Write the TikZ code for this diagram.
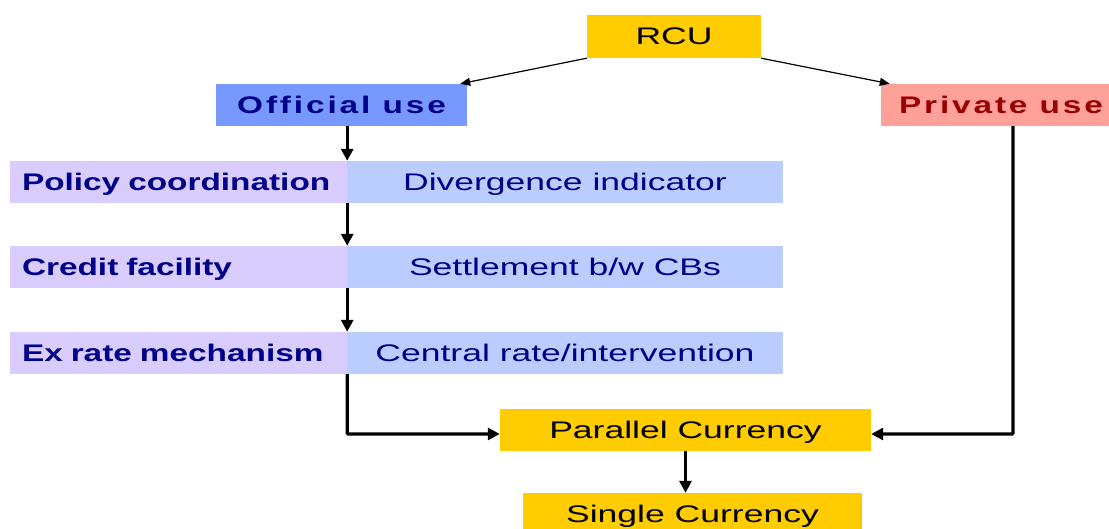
\documentclass[tikz,border=0pt]{standalone}
\usepackage{fontspec}
\setmainfont{Liberation Sans}
\newfontfamily\regf[FakeStretch=1.48]{Liberation Sans}
\newfontfamily\boldf[FakeStretch=1.39]{Liberation Sans}
\newfontfamily\spacedf[FakeStretch=1.39,LetterSpace=12]{Liberation Sans}
\usetikzlibrary{arrows.meta}
\definecolor{gold}{HTML}{FFCC00}
\definecolor{offblue}{HTML}{7799FF}
\definecolor{privred}{HTML}{FFA099}
\definecolor{lpurple}{HTML}{D9CCFF}
\definecolor{lblue}{HTML}{BBCCFF}
\definecolor{navy}{HTML}{000088}
\definecolor{dred}{HTML}{990000}
\begin{document}
\begin{tikzpicture}[x=1pt,y=-1pt,
  box/.style={draw=none,inner sep=0pt,minimum height=42pt,text height=17pt,text depth=0pt},
  goldbox/.style={box,fill=gold,text=black,font=\regf\fontsize{24}{28}\selectfont},
  headbox/.style={box,font=\spacedf\bfseries\fontsize{24}{28}\selectfont},
  pbox/.style={box,fill=lpurple,text=navy,align=left,font=\boldf\bfseries\fontsize{24}{28}\selectfont,minimum width=337pt,text width=313pt},
  bbox/.style={box,fill=lblue,text=navy,font=\regf\fontsize{24}{28}\selectfont,minimum width=436pt},
  thinarrow/.style={line width=1.2pt,-{Triangle[length=10pt,width=8pt]}},
  thickarrow/.style={line width=3.4pt,-{Triangle[length=12pt,width=12pt]}}
]
\useasboundingbox (0,0) rectangle (1109,529);
\node[goldbox,minimum width=174pt,minimum height=43pt] (rcu) at (674,36.5) {RCU};
\node[headbox,fill=offblue,text=navy,minimum width=251pt] (off) at (341.5,105) {Official use};
\node[headbox,fill=privred,text=dred,minimum width=240pt] (priv) at (1001,105) {Private use};
\node[pbox] (p1) at (178.5,182) {Policy coordination};
\node[bbox] (b1) at (565,182) {Divergence indicator};
\node[pbox] (p2) at (178.5,267) {Credit facility};
\node[bbox] (b2) at (565,267) {Settlement b/w CBs};
\node[pbox] (p3) at (178.5,353) {Ex rate mechanism};
\node[bbox] (b3) at (565,353) {Central rate/intervention};
\node[goldbox,minimum width=371pt] (par) at (685.5,430) {Parallel Currency};
\node[goldbox,minimum width=339pt] (sing) at (692.5,514) {Single Currency};
\draw[thinarrow] (rcu.south west) -- ([xshift=-7pt]off.north east);
\draw[thinarrow] (rcu.south east) -- ([xshift=9pt]priv.north west);
\draw[thickarrow] (off.south -| p1.east) -- (p1.north east);
\draw[thickarrow] (p1.south east) -- (p2.north east);
\draw[thickarrow] (p2.south east) -- (p3.north east);
\draw[thickarrow,rounded corners=1pt] (p3.south east) |- ([yshift=-4pt]par.west);
\draw[thickarrow,rounded corners=1pt] ([xshift=12pt]priv.south) |- ([yshift=-4pt]par.east);
\draw[thickarrow] (par.south) -- (par.south |- sing.north);
\end{tikzpicture}
\end{document}
